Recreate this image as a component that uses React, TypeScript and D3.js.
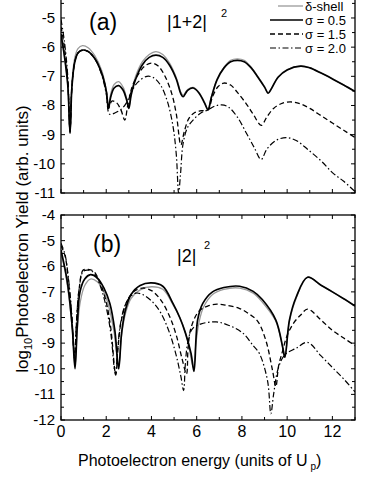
import React from "react";
import * as d3 from "d3";

type P = [number, number];

// Panel (a): |1+2|^2
const aShell: P[] = [[0,-5.6],[0.15,-6.3],[0.3,-7.3],[0.4,-8.95],[0.48,-7.3],[0.6,-6.4],[0.75,-6.05],[0.95,-5.95],[1.2,-6.02],[1.5,-6.3],[1.8,-6.8],[2.0,-7.45],[2.1,-8.05],[2.2,-7.6],[2.35,-7.28],[2.55,-7.18],[2.75,-7.38],[2.9,-7.75],[3.0,-8.05],[3.1,-7.6],[3.3,-7.0],[3.6,-6.5],[3.9,-6.25],[4.2,-6.15],[4.5,-6.25],[4.8,-6.55],[5.1,-7.05],[5.3,-7.55],[5.4,-7.65],[5.6,-7.45],[5.85,-7.38],[6.1,-7.55],[6.35,-7.9],[6.5,-8.12],[6.65,-7.7],[6.9,-7.1],[7.2,-6.7],[7.5,-6.45],[7.8,-6.4],[8.1,-6.45],[8.4,-6.68],[8.7,-7.0],[9.0,-7.35],[9.16,-7.57],[9.3,-7.42],[9.6,-7.02],[10.0,-6.77],[10.6,-6.64],[11.0,-6.7],[11.5,-6.88],[12.0,-7.08],[12.5,-7.3],[13,-7.52]];
const aS05: P[] = [[0,-5.55],[0.15,-6.3],[0.3,-7.3],[0.4,-8.95],[0.48,-7.4],[0.6,-6.55],[0.75,-6.2],[0.95,-6.1],[1.2,-6.15],[1.5,-6.4],[1.8,-6.9],[2.0,-7.5],[2.1,-8.1],[2.2,-7.7],[2.35,-7.4],[2.55,-7.32],[2.75,-7.48],[2.9,-7.8],[3.0,-8.1],[3.1,-7.65],[3.3,-7.1],[3.6,-6.6],[3.9,-6.35],[4.2,-6.27],[4.5,-6.35],[4.8,-6.62],[5.1,-7.1],[5.3,-7.6],[5.4,-7.7],[5.6,-7.48],[5.85,-7.4],[6.1,-7.57],[6.35,-7.92],[6.5,-8.15],[6.65,-7.72],[6.9,-7.12],[7.2,-6.72],[7.5,-6.5],[7.8,-6.45],[8.1,-6.5],[8.4,-6.7],[8.7,-7.02],[9.0,-7.37],[9.16,-7.58],[9.3,-7.43],[9.6,-7.03],[10.0,-6.78],[10.6,-6.65],[11.0,-6.71],[11.5,-6.89],[12.0,-7.09],[12.5,-7.3],[13,-7.52]];
const aS15: P[] = [[0,-5.3],[0.15,-6.0],[0.3,-7.2],[0.4,-8.9],[0.48,-7.4],[0.6,-6.55],[0.75,-6.2],[0.95,-6.1],[1.2,-6.15],[1.5,-6.4],[1.8,-6.9],[2.0,-7.5],[2.1,-8.1],[2.25,-7.85],[2.45,-7.9],[2.65,-8.15],[2.82,-8.5],[2.95,-8.0],[3.15,-7.35],[3.4,-6.95],[3.7,-6.65],[4.0,-6.55],[4.3,-6.65],[4.6,-7.0],[4.9,-7.6],[5.1,-8.3],[5.3,-9.35],[5.45,-8.9],[5.65,-8.45],[5.9,-8.25],[6.2,-8.18],[6.5,-8.15],[6.7,-7.7],[6.95,-7.35],[7.2,-7.23],[7.5,-7.3],[7.8,-7.55],[8.2,-7.95],[8.5,-8.3],[8.85,-8.68],[9.1,-8.4],[9.4,-8.1],[9.8,-7.92],[10.2,-7.88],[10.6,-7.95],[11.0,-8.1],[11.5,-8.35],[12.0,-8.6],[12.5,-8.85],[13,-9.1]];
const aS20: P[] = [[0,-5.05],[0.15,-5.8],[0.3,-7.0],[0.4,-8.9],[0.48,-7.4],[0.6,-6.55],[0.75,-6.2],[0.95,-6.1],[1.2,-6.15],[1.5,-6.4],[1.8,-6.95],[2.0,-7.6],[2.15,-8.3],[2.4,-8.25],[2.7,-8.1],[2.9,-7.9],[3.1,-7.55],[3.4,-7.2],[3.8,-7.0],[4.1,-7.05],[4.4,-7.3],[4.7,-7.85],[4.95,-8.7],[5.1,-9.7],[5.2,-11.0],[5.28,-10.4],[5.4,-9.3],[5.6,-8.75],[5.9,-8.45],[6.2,-8.25],[6.5,-8.15],[6.8,-8.02],[7.1,-7.98],[7.4,-8.05],[7.8,-8.4],[8.2,-8.95],[8.55,-9.45],[8.85,-9.85],[9.1,-9.5],[9.5,-9.2],[9.95,-9.1],[10.4,-9.2],[10.9,-9.5],[11.5,-9.9],[12.0,-10.3],[12.5,-10.6],[13,-10.95]];

// Panel (b): |2|^2
const bShell: P[] = [[0,-5.45],[0.2,-6.3],[0.35,-7.2],[0.5,-8.5],[0.62,-9.9],[0.72,-8.5],[0.85,-7.4],[1.05,-6.75],[1.3,-6.5],[1.6,-6.6],[1.9,-7.0],[2.15,-7.7],[2.35,-8.6],[2.55,-9.9],[2.68,-8.7],[2.85,-7.85],[3.1,-7.25],[3.5,-6.92],[4.0,-6.8],[4.5,-6.9],[4.95,-7.5],[5.3,-8.1],[5.6,-8.9],[5.85,-9.95],[5.97,-9.0],[6.1,-8.2],[6.3,-7.6],[6.7,-7.1],[7.2,-6.9],[7.9,-6.85],[8.5,-7.05],[8.9,-7.4],[9.5,-8.15],[9.8,-9.15],[9.9,-9.55],[10.1,-8.15],[10.4,-7.25],[10.9,-6.43],[11.5,-6.75],[12.0,-7.0],[12.5,-7.27],[13,-7.55]];
const bS05: P[] = [[0,-5.37],[0.2,-6.2],[0.31,-6.8],[0.5,-8.4],[0.62,-10.0],[0.72,-8.3],[0.84,-7.0],[1.05,-6.5],[1.3,-6.33],[1.6,-6.45],[1.9,-6.85],[2.16,-7.45],[2.38,-8.5],[2.55,-10.0],[2.68,-8.6],[2.85,-7.7],[3.1,-7.1],[3.5,-6.75],[4.0,-6.65],[4.5,-6.78],[4.95,-7.45],[5.25,-8.0],[5.5,-8.6],[5.75,-9.4],[5.88,-10.1],[6.04,-8.1],[6.27,-7.45],[6.7,-7.0],[7.2,-6.83],[7.9,-6.78],[8.5,-6.98],[8.9,-7.3],[9.5,-8.1],[9.8,-9.15],[9.9,-9.55],[10.1,-8.1],[10.4,-7.2],[10.9,-6.43],[11.5,-6.74],[12.0,-7.0],[12.5,-7.27],[13,-7.55]];
const bS15: P[] = [[0,-5.2],[0.18,-5.6],[0.32,-6.5],[0.47,-7.9],[0.6,-9.6],[0.68,-8.3],[0.8,-6.9],[0.98,-6.15],[1.2,-6.12],[1.45,-6.2],[1.75,-6.7],[2.0,-7.4],[2.2,-8.4],[2.42,-10.25],[2.52,-9.2],[2.65,-8.2],[2.9,-7.4],[3.2,-7.0],[3.6,-6.85],[4.0,-6.95],[4.4,-7.3],[4.8,-7.95],[5.1,-8.7],[5.35,-9.6],[5.55,-10.2],[5.62,-9.2],[5.75,-8.4],[6.1,-7.75],[6.5,-7.55],[6.9,-7.48],[7.3,-7.52],[7.9,-7.65],[8.3,-7.85],[8.7,-8.15],[9.06,-8.9],[9.35,-10.05],[9.5,-10.7],[9.62,-9.9],[9.8,-9.3],[10.0,-8.7],[10.3,-8.2],[10.6,-7.9],[10.9,-7.67],[11.5,-8.1],[12.0,-8.5],[12.5,-8.8],[13,-9.1]];
const bS20: P[] = [[0,-5.1],[0.18,-5.55],[0.32,-6.4],[0.47,-7.8],[0.6,-9.5],[0.68,-8.2],[0.8,-6.9],[0.98,-6.2],[1.2,-6.15],[1.45,-6.25],[1.75,-6.8],[2.0,-7.6],[2.2,-8.6],[2.4,-10.2],[2.5,-9.3],[2.62,-8.3],[2.8,-7.6],[3.0,-7.25],[3.3,-7.05],[3.6,-7.1],[4.0,-7.35],[4.4,-7.8],[4.8,-8.6],[5.1,-9.5],[5.3,-10.3],[5.42,-10.85],[5.5,-9.8],[5.6,-9.0],[5.8,-8.45],[6.2,-8.25],[6.86,-8.17],[7.4,-8.3],[8.03,-8.6],[8.5,-9.1],[8.77,-9.4],[9.13,-10.45],[9.28,-11.75],[9.4,-11.0],[9.6,-10.0],[9.9,-9.45],[10.4,-9.2],[10.9,-8.97],[11.5,-9.5],[12.0,-9.95],[12.5,-10.4],[13,-10.9]];

const xTickLabels = [0, 2, 4, 6, 8, 10, 12];
const yTicksA = [-5, -6, -7, -8, -9, -10, -11];
const yTicksB = [-4, -5, -6, -7, -8, -9, -10, -11, -12];

const legendLabels = ["δ-shell", "σ = 0.5", "σ = 1.5", "σ = 2.0"];

const FONT = "'Liberation Sans', Arial, Helvetica, sans-serif";

const styles = [
  { stroke: "#999", width: 1.3, dash: "" },
  { stroke: "#000", width: 1.7, dash: "" },
  { stroke: "#000", width: 1.3, dash: "5,3" },
  { stroke: "#000", width: 1.2, dash: "6,2.5,1.5,2.5" },
];

const x = d3.scaleLinear().domain([0, 13]).range([61, 355]);
const yA = d3.scaleLinear().domain([-11, -4]).range([193, 193 - 7 * 29.17]);
const yB = d3.scaleLinear().domain([-12, -4]).range([420, 215]);

function Panel({ y, series, yTicks, id, showXLabels }: { y: d3.ScaleLinear<number, number>; series: P[][]; yTicks: number[]; id: string; showXLabels: boolean }) {
  const [y0, y1] = y.domain();
  const top = y(y1);
  const bottom = y(y0);
  const left = x(0);
  const right = x(13);
  const line = d3.line<P>().x((d) => x(d[0])).y((d) => y(d[1])).curve(d3.curveCatmullRom.alpha(0.5));
  const xMinor = d3.range(0, 13.01, 1);
  const yMinor = d3.range(y0, y1 + 0.01, 0.5);
  return (
    <g>
      <defs>
        <clipPath id={id}>
          <rect x={left} y={top} width={right - left} height={bottom - top} />
        </clipPath>
      </defs>
      <g clipPath={`url(#${id})`}>
        {series.map((s, i) => (
          <path key={i} d={line(s) || ""} fill="none" stroke={styles[i].stroke} strokeWidth={styles[i].width} strokeDasharray={styles[i].dash || undefined} />
        ))}
      </g>
      <rect x={left} y={top} width={right - left} height={bottom - top} fill="none" stroke="#000" strokeWidth={1.3} />
      {xMinor.map((v) => {
        const len = v % 2 === 0 ? 4 : 3;
        return (
          <g key={"x" + v}>
            <line x1={x(v)} x2={x(v)} y1={bottom} y2={bottom - len} stroke="#000" strokeWidth={1} />
            <line x1={x(v)} x2={x(v)} y1={top} y2={top + len} stroke="#000" strokeWidth={1} />
          </g>
        );
      })}
      {yMinor.map((v) => {
        const len = Math.abs(v - Math.round(v)) < 0.01 ? 4 : 3;
        return (
          <g key={"y" + v}>
            <line x1={left} x2={left + len} y1={y(v)} y2={y(v)} stroke="#000" strokeWidth={1} />
            <line x1={right} x2={right - len} y1={y(v)} y2={y(v)} stroke="#000" strokeWidth={1} />
          </g>
        );
      })}
      {yTicks.map((v) => (
        <text key={"yl" + v} x={55} y={y(v) + 5} textAnchor="end" fontSize={15} fontFamily={FONT}>
          {String(v)}
        </text>
      ))}
      {showXLabels &&
        xTickLabels.map((v) => (
          <text key={"xl" + v} x={x(v)} y={437} textAnchor="middle" fontSize={16} fontFamily={FONT}>
            {String(v)}
          </text>
        ))}
    </g>
  );
}

export default function App() {
  return (
    <svg width={382} height={494} style={{ position: "absolute", left: 0, top: 0, background: "#fff" }}>
      <rect x={0} y={0} width={382} height={494} fill="#fff" />
      <Panel y={yA} series={[aShell, aS05, aS15, aS20]} yTicks={yTicksA} id="clipA" showXLabels={false} />
      <Panel y={yB} series={[bShell, bS05, bS15, bS20]} yTicks={yTicksB} id="clipB" showXLabels={true} />

      <text x={89} y={30} fontSize={23} fontFamily={FONT}>(a)</text>
      <text x={167} y={28} fontSize={18} fontFamily={FONT}>|1+2|</text>
      <text x={221} y={17} fontSize={11} fontFamily={FONT}>2</text>

      <text x={93} y={252} fontSize={23} fontFamily={FONT}>(b)</text>
      <text x={177} y={262} fontSize={18} fontFamily={FONT}>|2|</text>
      <text x={204} y={249} fontSize={11} fontFamily={FONT}>2</text>

      {legendLabels.map((lab, i) => {
        const ly = 6 + i * 14;
        return (
          <g key={lab}>
            <line x1={i === 0 ? 278 : 270} x2={303} y1={ly} y2={ly} stroke={styles[i].stroke} strokeWidth={styles[i].width} strokeDasharray={styles[i].dash || undefined} />
            <text x={305} y={ly + 4.5} fontSize={13} fontFamily={FONT}>{lab}</text>
          </g>
        );
      })}

      <text x={78} y={466} fontSize={16} fontFamily={FONT}>
        Photoelectron energy (units of U<tspan dx={3} dy={4} fontSize={10}>p</tspan><tspan dy={-4}>)</tspan>
      </text>

      <text transform="translate(28,239) rotate(-90)" textAnchor="middle" fontSize={17} fontFamily={FONT}>
        log<tspan fontSize={11} dy={4}>10</tspan><tspan dy={-4}>Photoelectron Yield (arb. units)</tspan>
      </text>
    </svg>
  );
}
